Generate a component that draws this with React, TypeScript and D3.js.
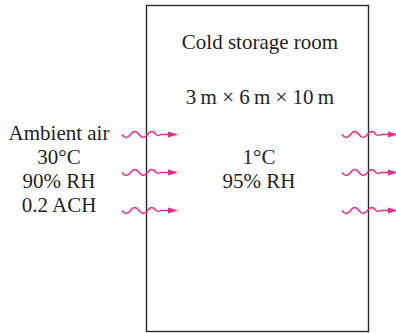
import React from "react";
import * as d3 from "d3";

const roomTitle = ["Cold storage room", "3\u2009m \u00d7 6\u2009m \u00d7 10\u2009m"];
const ambientLines = ["Ambient air", "30°C", "90% RH", "0.2 ACH"];
const insideLines = ["1°C", "95% RH"];
const arrowRows = [0, 1, 2];

const W = 396;
const H = 333;
const box = { x0: 146, x1: 368, y0: 5, y1: 331 };
const MAGENTA = "#e8288c";
const FONT = "'Liberation Serif', 'Times New Roman', serif";

function wavePath(xStart: number, y: number): string {
  const half = 8.5;
  const amp = 3;
  let d = `M${xStart},${y}`;
  let x = xStart;
  for (let i = 0; i < 4; i++) {
    const dir = i % 2 === 0 ? 1 : -1;
    d += ` Q${x + half / 2},${y + dir * amp * 2} ${x + half},${y}`;
    x += half;
  }
  d += ` Q${x + 2},${y + 1.8} ${x + 5},${y}`;
  d += ` L${xStart + 47},${y}`;
  return d;
}

function Arrow({ xStart, y }: { xStart: number; y: number }) {
  const base = xStart + 46;
  const tip = xStart + 56;
  return (
    <g>
      <path d={wavePath(xStart, y)} fill="none" stroke={MAGENTA} strokeWidth={1.4} />
      <path d={`M${base},${y - 3} L${tip},${y} L${base},${y + 3} Z`} fill={MAGENTA} />
    </g>
  );
}

export default function App() {
  const rowY = d3.scaleLinear().domain([0, 2]).range([134.5, 210.5]);
  const lineY = d3.scaleLinear().domain([0, 1]).range([140, 164]);
  const fs = 21;
  return (
    <svg
      width={W}
      height={H}
      style={{ position: "absolute", left: 0, top: 0, background: "#fff" }}
      fontFamily={FONT}
    >
      <rect
        x={box.x0 + 0.5}
        y={box.y0 + 0.5}
        width={box.x1 - box.x0}
        height={box.y1 - box.y0}
        fill="none"
        stroke="#2a2a2a"
        strokeWidth={1.4}
      />
      <text x={260} y={49} textAnchor="middle" fontSize={fs} fill="#231f20">
        {roomTitle[0]}
      </text>
      <text x={260} y={104} textAnchor="middle" fontSize={fs} fill="#231f20">
        {roomTitle[1]}
      </text>
      {ambientLines.map((t, i) => (
        <text key={t} x={59} y={lineY(i)} textAnchor="middle" fontSize={fs} fill="#231f20">
          {t}
        </text>
      ))}
      {insideLines.map((t, i) => (
        <text key={t} x={259} y={lineY(i + 1)} textAnchor="middle" fontSize={fs} fill="#231f20">
          {t}
        </text>
      ))}
      {arrowRows.map((r) => (
        <Arrow key={"l" + r} xStart={122} y={rowY(r)} />
      ))}
      {arrowRows.map((r) => (
        <Arrow key={"r" + r} xStart={342} y={rowY(r)} />
      ))}
    </svg>
  );
}
